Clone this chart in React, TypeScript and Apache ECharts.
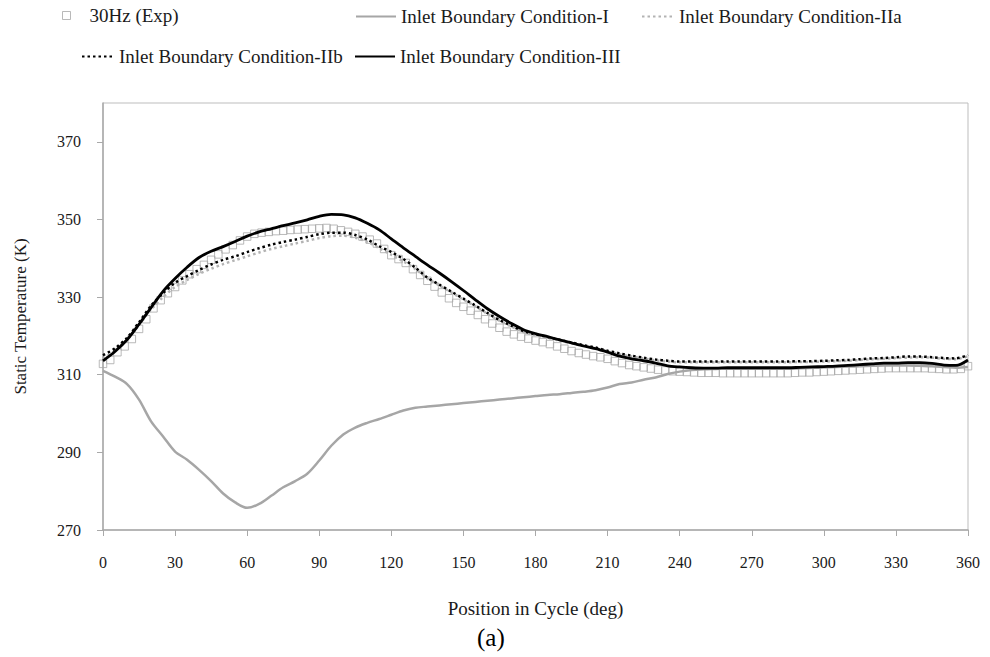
import React, { useEffect, useRef } from "react";
import * as echarts from "echarts";

// Crank angle grid (deg) for the simulated curves
const SIM_ANGLES = [
  0, 5, 10, 15, 20, 25, 30, 35, 40, 45, 50, 55, 60, 65, 70, 75, 80, 85, 90, 95,
  100, 105, 110, 115, 120, 125, 130, 135, 140, 145, 150, 155, 160, 165, 170, 175,
  180, 185, 190, 195, 200, 205, 210, 215, 220, 225, 230, 235, 240, 245, 250, 255,
  260, 265, 270, 275, 280, 285, 290, 295, 300, 305, 310, 315, 320, 325, 330, 335,
  340, 345, 350, 355, 360,
];

// Static temperature (K), Inlet Boundary Condition-I
const BC_I = [
  311.0, 309.5, 307.6, 303.6, 298.0, 294.1, 290.2, 288.1, 285.5, 282.6, 279.4, 277.1,
  275.7, 276.7, 278.8, 281.0, 282.6, 284.5, 287.9, 291.7, 294.6, 296.4, 297.6, 298.6,
  299.7, 300.8, 301.5, 301.8, 302.1, 302.4, 302.7, 303.0, 303.3, 303.6, 303.9, 304.2,
  304.5, 304.8, 305.0, 305.3, 305.6, 306.0, 306.7, 307.6, 308.0, 308.7, 309.3, 310.2,
  310.8, 311.2, 311.4, 311.5, 311.6, 311.6, 311.6, 311.6, 311.6, 311.6, 311.7, 311.8,
  311.9, 312.0, 312.1, 312.2, 312.3, 312.4, 312.4, 312.4, 312.3, 312.2, 312.0, 311.8,
  312.0,
];

// Inlet Boundary Condition-IIa
const BC_IIA = [
  314.2, 316.2, 319.0, 322.8, 326.8, 330.0, 332.6, 334.4, 336.0, 337.3, 338.5, 339.5,
  340.5, 341.5, 342.4, 343.1, 343.8, 344.5, 345.2, 345.7, 345.8, 345.3, 344.2, 342.6,
  340.9, 339.2, 337.2, 334.8, 333.0, 331.2, 329.4, 327.6, 325.7, 323.9, 322.4, 321.0,
  320.2, 319.5, 318.8, 318.1, 317.4, 316.8, 316.0, 315.3, 314.7, 314.2, 313.7, 313.4,
  313.2, 313.2, 313.2, 313.2, 313.2, 313.2, 313.2, 313.2, 313.2, 313.2, 313.3, 313.3,
  313.4, 313.5, 313.6, 313.8, 314.0, 314.1, 314.3, 314.4, 314.5, 314.4, 314.1, 314.0,
  314.8,
];

// Inlet Boundary Condition-IIb
const BC_IIB = [
  315.0, 316.8, 319.5, 323.5, 327.8, 331.0, 333.7, 335.4, 337.0, 338.4, 339.6, 340.5,
  341.6, 342.6, 343.5, 344.2, 344.8, 345.5, 346.2, 346.6, 346.6, 346.0, 344.8, 343.1,
  341.6, 339.8, 337.6, 335.0, 333.2, 331.4, 329.6, 327.8, 325.9, 324.1, 322.6, 321.2,
  320.4, 319.7, 319.0, 318.3, 317.6, 317.0, 316.2, 315.5, 314.9, 314.4, 313.9, 313.6,
  313.4, 313.4, 313.4, 313.4, 313.4, 313.4, 313.4, 313.4, 313.4, 313.4, 313.5, 313.5,
  313.6, 313.7, 313.8, 314.0, 314.2, 314.3, 314.5, 314.7, 314.7, 314.5, 314.3, 314.2,
  315.1,
];

// Inlet Boundary Condition-III
const BC_III = [
  313.6, 316.0, 319.0, 323.0, 327.3, 331.5, 334.8, 337.7, 340.2, 341.8, 343.0, 344.3,
  345.7, 346.8, 347.6, 348.4, 349.1, 349.9, 350.8, 351.3, 351.2, 350.4, 349.0, 347.3,
  345.0, 342.7, 340.5, 338.3, 336.2, 334.0, 331.7, 329.3, 327.0, 325.0, 323.2, 321.6,
  320.6, 319.8, 319.0, 318.2, 317.4, 316.7, 315.8, 314.8, 314.1, 313.6, 313.0, 312.3,
  312.0, 311.8, 311.7, 311.7, 311.8, 311.8, 311.8, 311.8, 311.8, 311.8, 311.9, 312.0,
  312.1, 312.2, 312.4, 312.6, 312.8, 313.0, 313.0, 313.1, 313.1, 312.9, 312.5, 312.4,
  313.8,
];

// Measured points, 30 Hz
const EXP_ANGLES = [
  0, 3, 6, 9, 12, 15, 18, 21, 24, 27, 30, 33, 36, 39, 42, 45, 48, 51, 54, 57, 60,
  63, 66, 69, 72, 75, 78, 81, 84, 87, 90, 93, 96, 99, 102, 105, 108, 111, 114, 117,
  120, 123, 126, 129, 132, 135, 138, 141, 144, 147, 150, 153, 156, 159, 162, 165,
  168, 171, 174, 177, 180, 183, 186, 189, 192, 195, 198, 201, 204, 207, 210, 213,
  216, 219, 222, 225, 228, 231, 234, 237, 240, 243, 246, 249, 252, 255, 258, 261,
  264, 267, 270, 273, 276, 279, 282, 285, 288, 291, 294, 297, 300, 303, 306, 309,
  312, 315, 318, 321, 324, 327, 330, 333, 336, 339, 342, 345, 348, 351, 354, 357, 360,
];
const EXP_30HZ = [
  312.8, 313.8, 315.8, 317.3, 319.2, 321.8, 324.3, 327.1, 329.2, 331.0, 332.6, 334.3,
  335.9, 337.2, 338.3, 339.6, 341.0, 342.3, 343.4, 344.6, 345.6, 346.3, 346.6, 346.8,
  347.0, 347.1, 347.3, 347.4, 347.5, 347.6, 347.7, 347.8, 347.6, 347.2, 346.8, 346.3,
  345.6, 344.8, 343.8, 342.4, 340.8, 339.8, 338.8, 337.2, 335.7, 334.2, 332.7, 331.2,
  329.7, 328.5, 327.5, 326.5, 325.4, 324.3, 323.2, 322.1, 321.1, 320.4, 319.8, 319.3,
  318.8, 318.4, 317.9, 317.3, 316.7, 316.1, 315.6, 315.2, 314.8, 314.5, 314.1, 313.5,
  313.0, 312.5, 312.2, 311.9, 311.6, 311.3, 311.1, 310.9, 310.8, 310.7, 310.6, 310.5,
  310.5, 310.5, 310.4, 310.4, 310.4, 310.4, 310.4, 310.4, 310.4, 310.4, 310.4, 310.4,
  310.5, 310.6, 310.6, 310.7, 310.8, 310.9, 311.0, 311.1, 311.2, 311.3, 311.4, 311.5,
  311.6, 311.7, 311.7, 311.7, 311.7, 311.7, 311.7, 311.6, 311.5, 311.4, 311.4, 311.5,
  312.2,
];

const X_TICKS = [0, 30, 60, 90, 120, 150, 180, 210, 240, 270, 300, 330, 360];
const Y_TICKS = [270, 290, 310, 330, 350, 370];

const FONT = "'Liberation Serif', 'DejaVu Serif', serif";
const TEXT = "#1a1a1a";
const AXIS_GREY = "#a9a9a9";
const SQUARE_GREY = "#a8a8a8";

const pairs = (xs: number[], ys: number[]) => xs.map((x, i) => [x, ys[i]]);

// One legend block per entry so each can sit exactly where it belongs
const legendItem = (
  name: string,
  left: number,
  top: number,
  itemWidth: number,
  itemHeight: number,
  textPadLeft: number,
  itemStyle: object
) => ({
  data: [name],
  left,
  top,
  padding: 0,
  itemWidth,
  itemHeight,
  selectedMode: false,
  itemStyle,
  textStyle: {
    fontFamily: FONT,
    fontSize: 19,
    color: TEXT,
    padding: [0, 0, 0, textPadLeft],
  },
});

const HIDDEN_SYMBOL = { opacity: 0 };

export default function App() {
  const ref = useRef<HTMLDivElement>(null);

  useEffect(() => {
    if (!ref.current) return;
    const chart = echarts.init(ref.current, undefined, { renderer: "svg" });
    chart.setOption({
      animation: false,
      backgroundColor: "#ffffff",
      textStyle: { fontFamily: FONT },
      legend: [
        legendItem("30Hz (Exp)", 62, 6, 8, 8, 14, {
          color: "#ffffff",
          borderColor: SQUARE_GREY,
          borderWidth: 1,
        }),
        legendItem("Inlet Boundary Condition-I", 355, 7, 40, 14, 0, HIDDEN_SYMBOL),
        legendItem("Inlet Boundary Condition-IIa", 641, 7, 32, 14, 0, HIDDEN_SYMBOL),
        legendItem("Inlet Boundary Condition-IIb", 81, 47, 32, 14, 0, HIDDEN_SYMBOL),
        legendItem("Inlet Boundary Condition-III", 354, 47, 40, 14, 0, HIDDEN_SYMBOL),
      ],
      grid: {
        left: 103,
        right: 22,
        top: 103,
        bottom: 127,
        show: true,
        borderColor: "#bdbdbd",
        borderWidth: 1,
      },
      xAxis: {
        type: "value",
        min: 0,
        max: 360,
        interval: 30,
        name: "Position in Cycle (deg)",
        nameLocation: "middle",
        nameGap: 69,
        nameTextStyle: { fontFamily: FONT, fontSize: 19, color: TEXT },
        axisLine: { show: true, lineStyle: { color: AXIS_GREY, width: 1.5 } },
        axisTick: { show: true, length: 6, lineStyle: { color: AXIS_GREY, width: 1 } },
        axisLabel: {
          margin: 24,
          fontFamily: FONT,
          fontSize: 16,
          color: TEXT,
          customValues: X_TICKS,
        },
        splitLine: { show: false },
      },
      yAxis: {
        type: "value",
        min: 270,
        max: 380,
        name: "Static Temperature (K)",
        nameLocation: "middle",
        nameGap: 74,
        nameTextStyle: { fontFamily: FONT, fontSize: 17, color: TEXT },
        axisLine: { show: true, lineStyle: { color: AXIS_GREY, width: 1.5 } },
        axisTick: { show: true, length: 6, lineStyle: { color: AXIS_GREY, width: 1 }, customValues: Y_TICKS },
        axisLabel: {
          margin: 22,
          fontFamily: FONT,
          fontSize: 16,
          color: TEXT,
          customValues: Y_TICKS,
        },
        splitLine: { show: false },
      },
      graphic: [
        {
          type: "text",
          left: 477,
          top: 625,
          style: { text: "(a)", font: `25px ${FONT}`, fill: "#000" },
        },
      ],
      series: [
        {
          name: "30Hz (Exp)",
          type: "scatter",
          symbol: "rect",
          symbolSize: 7.5,
          z: 1,
          itemStyle: { color: "rgba(255,255,255,0)", borderColor: SQUARE_GREY, borderWidth: 1 },
          data: pairs(EXP_ANGLES, EXP_30HZ),
        },
        {
          name: "Inlet Boundary Condition-I",
          type: "line",
          symbol: "none",
          smooth: 0.3,
          z: 2,
          lineStyle: { color: "#a6a6a6", width: 2.5 },
          itemStyle: { color: "#a6a6a6" },
          data: pairs(SIM_ANGLES, BC_I),
        },
        {
          name: "Inlet Boundary Condition-IIa",
          type: "line",
          symbol: "none",
          smooth: 0.3,
          z: 3,
          lineStyle: { color: "#b3b3b3", width: 2.5, type: [2.5, 3] },
          itemStyle: { color: "#b3b3b3" },
          data: pairs(SIM_ANGLES, BC_IIA),
        },
        {
          name: "Inlet Boundary Condition-IIb",
          type: "line",
          symbol: "none",
          smooth: 0.3,
          z: 4,
          lineStyle: { color: "#000000", width: 2.5, type: [2.5, 3] },
          itemStyle: { color: "#000000" },
          data: pairs(SIM_ANGLES, BC_IIB),
        },
        {
          name: "Inlet Boundary Condition-III",
          type: "line",
          symbol: "none",
          smooth: 0.3,
          z: 5,
          lineStyle: { color: "#000000", width: 2.8 },
          itemStyle: { color: "#000000" },
          data: pairs(SIM_ANGLES, BC_III),
        },
      ],
    });
    return () => chart.dispose();
  }, []);

  return <div ref={ref} style={{ width: 990, height: 657, position: "absolute", left: 0, top: 0 }} />;
}
